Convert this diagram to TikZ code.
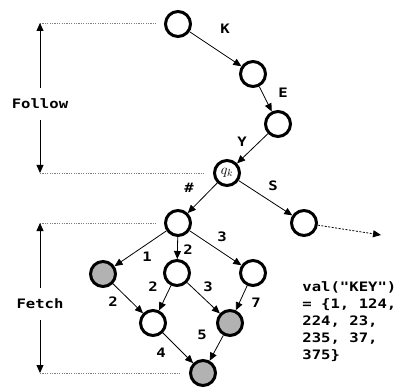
\documentclass[tikz,border=0pt]{standalone}
\usepackage{fontspec}
\newfontfamily\pixfont{DejaVu Sans Mono}[FakeStretch=1.2]
\usetikzlibrary{arrows.meta}

\begin{document}
\begin{tikzpicture}[x=1pt,y=-1pt,
      st/.style={draw,circle,line width=3pt,minimum size=25pt,inner sep=0pt},
      fin/.style={st,fill=black!30},
      lbl/.style={font=\fontsize{13}{17}\selectfont\pixfont\bfseries,inner sep=0pt},
      guide/.style={gray,line width=0.7pt,dash pattern=on 1.2pt off 1.2pt},
      >={Triangle[length=8pt,width=7pt]},line width=0.8pt]
    \useasboundingbox (0,0) rectangle (403,387);
    % follow part
    \node[st](n0) at (178,24)  {};
    \node[st](n1) at (253,74)  {};
    \node[st](n2) at (278,124) {};
    \node[st,font=\fontsize{14}{14}\selectfont](qk) at (227,173) {$q_k$};
    \node[st](s1) at (304,223) {};
    \coordinate (out) at (381,235);
    % fetch part
    \node[st](f0)  at (178,223) {};
    \node[fin](f1) at (103,274) {};
    \node[st](f2)  at (177,273) {};
    \node[st](f3)  at (253,273) {};
    \node[st](f4)  at (153,323) {};
    \node[fin](f5) at (230,323) {};
    \node[fin](f6) at (203,373) {};
    \draw[->](n0)--(n1);\draw[->](n1)--(n2);\draw[->](n2)--(qk);
    \draw[->](qk)--(f0);\draw[->](qk)--(s1);
    \draw[->,dash pattern=on 2pt off 1.5pt](s1)--(out);
    \draw[->](f0)--(f1);\draw[->](f0)--(f2);\draw[->](f0)--(f3);
    \draw[->](f1)--(f4);\draw[->](f2)--(f4);\draw[->](f2)--(f5);\draw[->](f3)--(f5);
    \draw[->](f4)--(f6);\draw[->](f5)--(f6);
    % edge labels
    \node[lbl](lk) at (225,29)  {K};
    \node[lbl](le) at (283,93)  {E};
    \node[lbl](ly) at (242,142) {Y};
    \node[lbl](ls) at (273,186) {S};
    \node[lbl](lh) at (189,188) {\#};
    \node[lbl](l1) at (147,257) {1};
    \node[lbl](l2) at (188,250) {2};
    \node[lbl](l3) at (222,237) {3};
    \node[lbl](l4) at (113,302) {2};
    \node[lbl](l5) at (153,287) {2};
    \node[lbl](l6) at (208,287) {3};
    \node[lbl](l7) at (256,303) {7};
    \node[lbl](l8) at (161,353) {4};
    \node[lbl](l9) at (202,335) {5};
    % ranges
    \coordinate (fu) at (40,23);  \coordinate (fue) at (157,23);
    \coordinate (fd) at (40,173); \coordinate (fde) at (205,173);
    \coordinate (hu) at (40,223); \coordinate (hue) at (157,223);
    \coordinate (hd) at (40,373); \coordinate (hde) at (180,373);
    \draw[guide](fu)--(fue);\draw[guide](fd)--(fde);
    \draw[guide](hu)--(hue);\draw[guide](hd)--(hde);
    \node[lbl,inner ysep=11pt](fol) at (40,104) {Follow};
    \node[lbl,inner ysep=11pt](fet) at (40,304) {Fetch};
    \draw[->](fol)--(fu);\draw[->](fol)--(fd);
    \draw[->](fet)--(hu);\draw[->](fet)--(hd);
    \node[lbl,align=left,anchor=north west](val) at (302,281)
      {val("KEY")\\= \{1, 124,\\224, 23,\\235, 37,\\375\}};
  \end{tikzpicture}
\end{document}
